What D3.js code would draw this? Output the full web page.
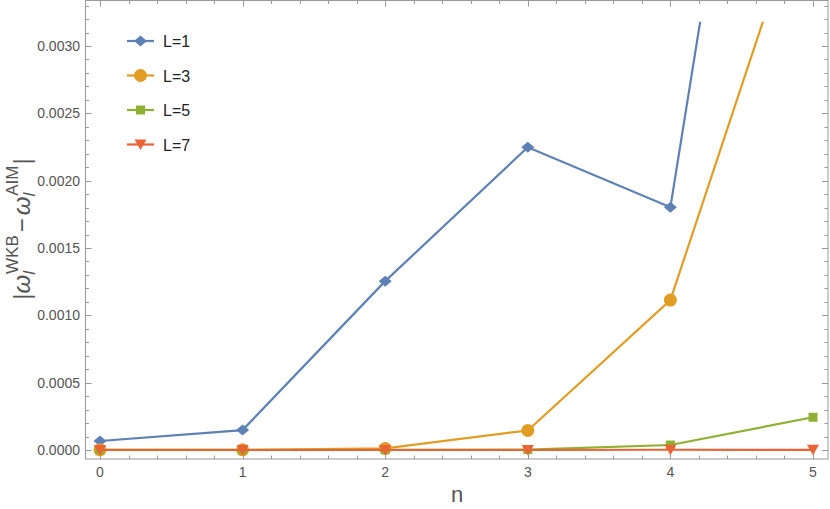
<!DOCTYPE html>
<html>
<head>
<meta charset="utf-8">
<script src="https://cdn.jsdelivr.net/npm/d3@7/dist/d3.min.js"></script>
<style>
  body { margin: 0; background: #fff; }
  text { font-family: "Liberation Sans", Arial, sans-serif; }
  .tick-label { font-size: 14px; fill: #555; }
  .frame { stroke: #999; stroke-width: 1; fill: none; }
  .tick { stroke: #999; stroke-width: 1; }
</style>
</head>
<body>
<div id="chart"></div>
<script>
// data
const nValues = [0, 1, 2, 3, 4, 5];
const xTicks = [0, 1, 2, 3, 4, 5];
const yTicks = [0, 0.0005, 0.0010, 0.0015, 0.0020, 0.0025, 0.0030];
const seriesNames = ["L=1", "L=3", "L=5", "L=7"];
const l1 = [0.000067, 0.000148, 0.001254, 0.002248, 0.001803, 0.0084];
const l3 = [0.000001, 0.000001, 0.000012, 0.000145, 0.001113, 0.0043];
const l5 = [0.000001, 0.000001, 0.000002, 0.000003, 0.000037, 0.000243];
const l7 = [0.0, 0.0, 0.0, 0.0, 0.000002, 0.000001];

const colors = ["#5E81B5", "#E19C24", "#8FB032", "#EB6235"];
const shapes = ["diamond", "circle", "square", "triangle"];
const allSeries = [l1, l3, l5, l7];

const W = 830, H = 509;
const frame = {left: 85.5, right: 828, top: 0.5, bottom: 459};

const x = d3.scaleLinear().domain([0, 5]).range([100, 813]);
const y = d3.scaleLinear().domain([0, 0.003]).range([450, 46]);

const svg = d3.select('#chart').append('svg')
    .attr('width', W)
    .attr('height', H);

// clip to plot range
svg.append('clipPath').attr('id', 'clip')
    .append('rect')
    .attr('x', frame.left).attr('y', y(0.00318))
    .attr('width', frame.right - frame.left)
    .attr('height', frame.bottom - y(0.00318));

// frame
svg.append('rect').attr('class', 'frame')
    .attr('x', frame.left).attr('y', frame.top)
    .attr('width', frame.right - frame.left)
    .attr('height', frame.bottom - frame.top);

// ticks (inward, on all four sides)
const xMinor = d3.range(0, 5.0001, 0.2);
const yMinor = d3.range(0, 0.00335, 0.0001);
const ticks = svg.append('g');
xMinor.forEach(function(v, i){
    const len = (i % 5 === 0) ? 6 : 3.5;
    const px = Math.round(x(v)) + 0.5;
    ticks.append('line').attr('class', 'tick')
        .attr('x1', px).attr('x2', px).attr('y1', frame.bottom).attr('y2', frame.bottom - len);
    ticks.append('line').attr('class', 'tick')
        .attr('x1', px).attr('x2', px).attr('y1', frame.top).attr('y2', frame.top + len);
});
yMinor.forEach(function(v, i){
    const len = (i % 5 === 0) ? 6 : 3.5;
    const py = Math.round(y(v)) + 0.5;
    if (py < frame.top + 1) return;
    ticks.append('line').attr('class', 'tick')
        .attr('x1', frame.left).attr('x2', frame.left + len).attr('y1', py).attr('y2', py);
    ticks.append('line').attr('class', 'tick')
        .attr('x1', frame.right).attr('x2', frame.right - len).attr('y1', py).attr('y2', py);
});

// tick labels
svg.append('g').selectAll('text')
    .data(xTicks).enter().append('text')
    .attr('class', 'tick-label')
    .attr('x', function(d){ return x(d); })
    .attr('y', 477)
    .attr('text-anchor', 'middle')
    .text(function(d){ return d; });

svg.append('g').selectAll('text')
    .data(yTicks).enter().append('text')
    .attr('class', 'tick-label')
    .attr('x', 80)
    .attr('y', function(d){ return y(d) + 5; })
    .attr('text-anchor', 'end')
    .text(function(d){ return d3.format('.4f')(d); });

// axis labels
svg.append('text')
    .attr('x', 457).attr('y', 502)
    .attr('text-anchor', 'middle')
    .style('font-size', '22px').style('fill', '#555')
    .text('n');

const yl = svg.append('text')
    .attr('transform', 'translate(30,229) rotate(-90)')
    .attr('text-anchor', 'middle')
    .style('font-size', '24px').style('fill', '#555');
yl.append('tspan').text('|');
yl.append('tspan').style('font-style', 'italic').text('ω');
yl.append('tspan').style('font-size', '17px').style('font-style', 'italic').attr('dy', 5).text('l');
yl.append('tspan').style('font-size', '17px').attr('dx', -3).attr('dy', -17).text('WKB');
yl.append('tspan').attr('dy', 12).attr('dx', 3).text('−');
yl.append('tspan').style('font-style', 'italic').attr('dx', 3).text('ω');
yl.append('tspan').style('font-size', '17px').style('font-style', 'italic').attr('dy', 5).text('l');
yl.append('tspan').style('font-size', '17px').attr('dx', -3).attr('dy', -17).text('AIM');
yl.append('tspan').attr('dy', 12).attr('dx', 1).text('|');

// marker shapes
function markerPath(shape){
    if (shape === 'diamond') return 'M-6.5,0L0,-5.5L6.5,0L0,5.5Z';
    if (shape === 'square') return 'M-4.5,-4.5H4.5V4.5H-4.5Z';
    if (shape === 'triangle') return 'M-6,-5H6L0,5.5Z';
    return d3.symbol().type(d3.symbolCircle).size(Math.PI * 6.5 * 6.5)();
}

const line = d3.line()
    .x(function(d, i){ return x(nValues[i]); })
    .y(function(d){ return y(d); });

const plot = svg.append('g').attr('clip-path', 'url(#clip)');

allSeries.forEach(function(vals, k){
    const g = plot.append('g');
    g.append('path')
        .datum(vals)
        .attr('d', line)
        .attr('fill', 'none')
        .attr('stroke', colors[k])
        .attr('stroke-width', 2.2);
    g.selectAll('path.mk')
        .data(vals.map(function(v, i){ return {n: nValues[i], v: v}; }).filter(function(d){ return d.v <= 0.00318; }))
        .enter().append('path')
        .attr('class', 'mk')
        .attr('d', markerPath(shapes[k]))
        .attr('fill', colors[k])
        .attr('transform', function(d){ return 'translate(' + x(d.n) + ',' + y(d.v) + ')'; });
});

// legend
const legend = svg.append('g');
seriesNames.forEach(function(name, k){
    const ly = 41 + k * 34.5;
    legend.append('line')
        .attr('x1', 127).attr('x2', 154).attr('y1', ly).attr('y2', ly)
        .attr('stroke', colors[k]).attr('stroke-width', 2.2);
    legend.append('path')
        .attr('d', markerPath(shapes[k]))
        .attr('fill', colors[k])
        .attr('transform', 'translate(140.5,' + ly + ')');
    legend.append('text')
        .attr('x', 163).attr('y', ly + 6)
        .style('font-size', '16px').style('fill', '#222')
        .text(name);
});
</script>
</body>
</html>
